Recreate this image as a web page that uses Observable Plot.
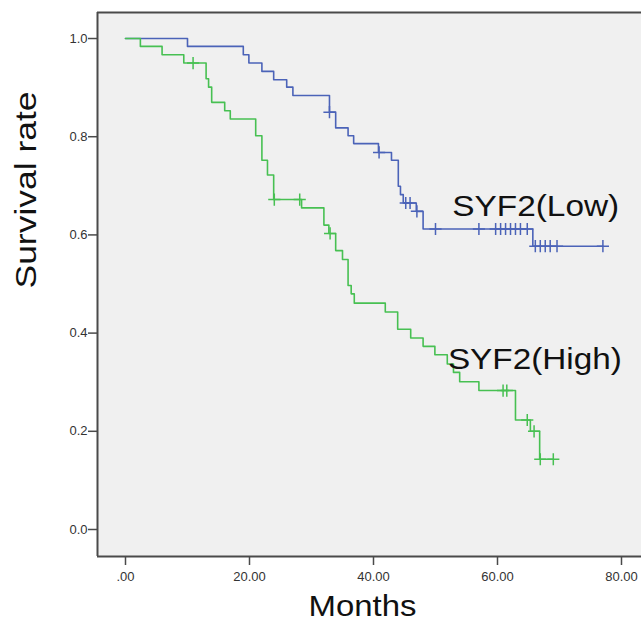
<!DOCTYPE html>
<html>
<head>
<meta charset="utf-8">
<script src="https://cdn.jsdelivr.net/npm/d3@7"></script>
<script src="https://cdn.jsdelivr.net/npm/@observablehq/plot@0.6"></script>
<style>
  html, body { margin: 0; padding: 0; background: #ffffff; }
  #chart svg { display: block; }
</style>
</head>
<body>
<div id="chart"></div>
<script>
// ---- data ----
const groups = ["SYF2(Low)", "SYF2(High)"];

// SYF2(Low): event times (months) and survival after each step
const lowTimes = [0, 10.0, 19.0, 19.9, 22.0, 23.9, 26.0, 27.0, 32.9, 33.9, 35.9, 36.8, 40.8, 42.9, 44.0, 44.35, 44.8, 46.9, 48.0, 65.7];
const lowSurv  = [1, 0.984, 0.967, 0.950, 0.933, 0.916, 0.901, 0.884, 0.850, 0.818, 0.802, 0.786, 0.768, 0.752, 0.699, 0.682, 0.665, 0.648, 0.612, 0.577];
const lowCensor = [32.9, 40.9, 45.2, 45.9, 47.0, 50.0, 57.0, 59.7, 60.5, 61.3, 62.1, 62.9, 63.7, 64.8, 66.1, 66.9, 67.7, 68.5, 69.6, 77.0];
const lowEnd = 77.0;

// SYF2(High)
const highTimes = [0, 2.4, 5.9, 9.4, 13.0, 13.4, 13.9, 16.0, 16.9, 21.0, 22.0, 22.9, 23.9, 28.4, 32.0, 32.8, 33.9, 35.0, 35.9, 36.4, 36.9, 41.9, 43.9, 46.0, 48.0, 49.9, 51.9, 52.9, 53.9, 57.0, 62.9, 65.3, 66.8];
const highSurv  = [1, 0.984, 0.967, 0.950, 0.918, 0.901, 0.870, 0.853, 0.836, 0.802, 0.752, 0.722, 0.672, 0.655, 0.620, 0.603, 0.568, 0.550, 0.497, 0.480, 0.461, 0.443, 0.408, 0.390, 0.373, 0.356, 0.337, 0.320, 0.301, 0.283, 0.223, 0.200, 0.143];
const highCensor = [10.9, 24.0, 28.1, 33.0, 60.9, 61.5, 64.8, 65.9, 66.9, 69.0];
const highEnd = 69.0;

const monthsTicks = [0, 20, 40, 60, 80];
const monthsTickLabels = [".00", "20.00", "40.00", "60.00", "80.00"];
const rateTicks = [0, 0.2, 0.4, 0.6, 0.8, 1.0];
const rateTickLabels = ["0.0", "0.2", "0.4", "0.6", "0.8", "1.0"];

const xTitle = "Months";
const yTitle = "Survival rate";

// ---- build tables ----
const series = [
  {group: groups[0], times: lowTimes, surv: lowSurv, censor: lowCensor, end: lowEnd},
  {group: groups[1], times: highTimes, surv: highSurv, censor: highCensor, end: highEnd}
];
const steps = [];
const censors = [];
for (const s of series) {
  s.times.forEach((t, i) => steps.push({group: s.group, t, v: s.surv[i]}));
  steps.push({group: s.group, t: s.end, v: s.surv[s.surv.length - 1]});
  for (const c of s.censor) {
    let v = s.surv[0];
    s.times.forEach((t, i) => { if (t <= c) v = s.surv[i]; });
    censors.push({group: s.group, t: c, v});
  }
}

const colors = ["#4b63b8", "#47c052"];
const xDomain = [-4.516, 83.226];
const yDomain = [-0.055, 1.053];
const frameColor = "#4a4a4a";

const plot = Plot.plot({
  width: 641,
  height: 623,
  marginLeft: 97,
  marginRight: 0,
  marginTop: 12,
  marginBottom: 67,
  style: {background: "#ffffff", fontFamily: "'Liberation Sans', Arial, sans-serif"},
  x: {domain: xDomain, label: null},
  y: {domain: yDomain, label: null},
  color: {domain: groups, range: colors},
  marks: [
    Plot.frame({fill: "#f0f0f0", stroke: null}),
    Plot.ruleX([xDomain[0]], {stroke: frameColor, strokeWidth: 2}),
    Plot.ruleY([yDomain[0]], {stroke: frameColor, strokeWidth: 2}),
    Plot.ruleY([yDomain[1]], {stroke: frameColor, strokeWidth: 2}),
    Plot.axisX({
      ticks: monthsTicks,
      tickFormat: (d) => monthsTickLabels[monthsTicks.indexOf(d)],
      tickSize: 9, tickPadding: 6, fontSize: 13, fill: "#333", stroke: frameColor, strokeWidth: 1.5, label: null
    }),
    Plot.axisY({
      ticks: rateTicks,
      tickFormat: (d) => rateTickLabels[rateTicks.findIndex(r => Math.abs(r - d) < 1e-9)],
      tickSize: 9, tickPadding: 1, fontSize: 13, fill: "#333", stroke: frameColor, strokeWidth: 1.5, label: null
    }),
    Plot.line(steps, {x: "t", y: "v", z: "group", stroke: "group", curve: "step-after", strokeWidth: 1.6}),
    Plot.dot(censors, {x: "t", y: "v", stroke: "group", symbol: "plus", r: 4, strokeWidth: 1.5}),
    Plot.text([groups[0]], {x: 52.7, y: 0.658, text: (d) => d, textAnchor: "start", lineAnchor: "middle", fontSize: 29, fill: "#111"}),
    Plot.text([groups[1]], {x: 52.0, y: 0.346, text: (d) => d, textAnchor: "start", lineAnchor: "middle", fontSize: 29, fill: "#111"}),
    Plot.text([xTitle], {frameAnchor: "bottom", dx: -7, dy: 50, text: (d) => d, lineAnchor: "middle", fontSize: 30, fill: "#111"}),
    Plot.text([yTitle], {frameAnchor: "left", dx: -71.6, dy: 4, rotate: -90, text: (d) => d, lineAnchor: "middle", fontSize: 30, fill: "#111"})
  ]
});

const lengths = {"SYF2(Low)": 167, "SYF2(High)": 174, "Months": 108, "Survival rate": 197};
d3.select(plot).selectAll("text").each(function() {
  const L = lengths[this.textContent];
  if (L) {
    this.setAttribute("textLength", L);
    this.setAttribute("lengthAdjust", "spacingAndGlyphs");
  }
});

document.getElementById("chart").appendChild(plot);
</script>
</body>
</html>
